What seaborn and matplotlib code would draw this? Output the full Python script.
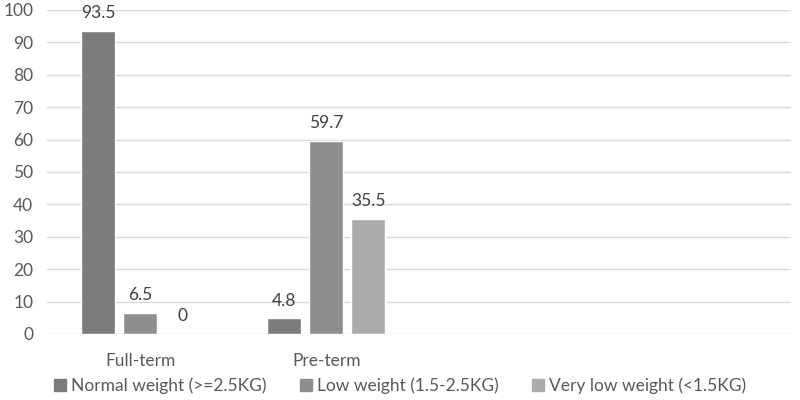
import matplotlib.pyplot as plt
import pandas as pd
import seaborn as sns

groups = ["Full-term", "Pre-term"]
weights = ["Normal weight (>=2.5KG)", "Low weight (1.5-2.5KG)", "Very low weight (<1.5KG)"]
full_term = [93.5, 6.5, 0]
pre_term = [4.8, 59.7, 35.5]
colors = ["#7b7b7b", "#8e8e8e", "#ababab"]

df = pd.DataFrame({
    "group": [groups[0]] * 3 + [groups[1]] * 3,
    "weight": weights * 2,
    "value": full_term + pre_term,
})

sns.set_style("white")
plt.rcParams["font.family"] = ["Lato", "DejaVu Sans"]

fig = plt.figure(figsize=(8, 4), dpi=100)
ax = fig.add_axes([0.059, 0.165, 0.93, 0.81])

sns.barplot(
    data=df, x="group", y="value", hue="weight",
    order=groups, hue_order=weights, palette=colors,
    width=0.68, gap=0.2, saturation=1, ax=ax, legend=False
)

for cont in ax.containers:
    ax.bar_label(cont, labels=[f"{v:g}" for v in cont.datavalues],
                 padding=7, fontsize=12.5, color="#404040")

ax.set_xlim(-0.5, 3.5)
ax.set_ylim(0, 100)
ax.set_yticks(range(0, 101, 10))
ax.yaxis.grid(True, color="#d9d9d9", linewidth=1)
ax.set_axisbelow(True)
for s in ax.spines.values():
    s.set_visible(False)
ax.tick_params(axis="both", length=0, labelsize=12.5, colors="#595959")
ax.tick_params(axis="x", pad=14)
ax.tick_params(axis="y", pad=10)
ax.set_xlabel("")
ax.set_ylabel("")

handles = [plt.Rectangle((0, 0), 1, 1, color=c) for c in colors]
fig.legend(handles, weights, loc="lower center", bbox_to_anchor=(0.5, -0.025),
           ncol=3, frameon=False, fontsize=12.5, handlelength=0.7, handleheight=0.7,
           handletextpad=0.3, columnspacing=1.9, labelcolor="#595959")

fig.savefig("out.png", dpi=100)
